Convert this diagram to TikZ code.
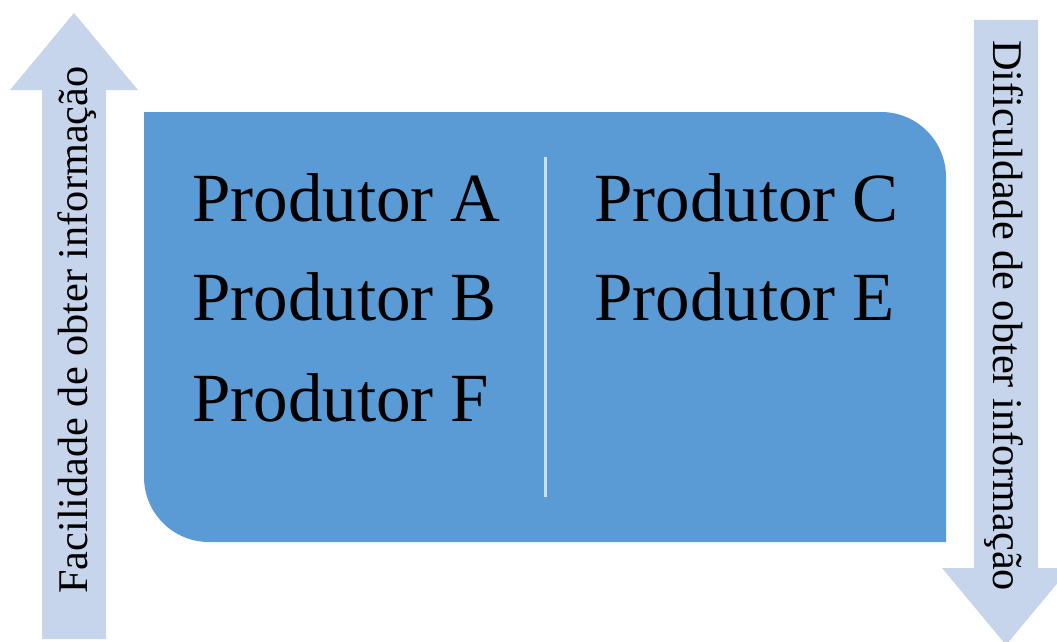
\documentclass[tikz,border=0pt]{standalone}
\usepackage{fontspec}
\setmainfont{Liberation Serif}
\usepackage{tikz}
\usetikzlibrary{positioning,calc}
\definecolor{boxblue}{HTML}{5B9BD5}
\definecolor{arrowblue}{HTML}{C6D5EB}
\definecolor{lineblue}{HTML}{CFDEF0}
\tikzstyle{prod}=[inner sep=0pt, anchor=base west, font=\fontsize{69}{80}\selectfont]
\tikzstyle{side}=[inner sep=0pt, anchor=base west, font=\fontsize{42.3}{50}\selectfont]
\tikzstyle{bigarrow}=[fill=arrowblue]

\begin{document}
\begin{tikzpicture}[x=1pt, y=-1pt]
      %
      \useasboundingbox (0,0) rectangle (1057,642);
      \clip (0,0) rectangle (1057,642);
      % arrows
      \fill[bigarrow] (42,639) -- (42,90) -- (10,90) -- (74,13) -- (138,90)
        -- (106,90) -- (106,639) -- cycle;
      \fill[bigarrow] (974,20) -- (1038,20) -- (1038,568) -- (1070,568)
        -- (1006,645) -- (942,568) -- (974,568) -- cycle;
      % box
      \fill[boxblue] (144,112) -- (881,112) .. controls (917,112) and (946,141) .. (946,177)
        -- (946,542) -- (209,542) .. controls (173,542) and (144,513) .. (144,477) -- cycle;
      \coordinate (top) at (545,157);
      \coordinate (bot) at (545,497);
      \draw[lineblue, line width=3pt] (top) -- (bot);
      %
      \node at (192,221) [prod] (A) {Produtor A};
      \node at (192,320) [prod] (B) {Produtor B};
      \node at (192,421) [prod] (F) {Produtor F};
      \node at (594,221) [prod] (C) {Produtor C};
      \node at (594,320) [prod] (E) {Produtor E};
      %
      \node at (87,594) [side, rotate=90] (easy) {Facilidade de obter informação};
      \node at (993,40) [side, rotate=-90] (hard) {Dificuldade de obter informação};
      %
\end{tikzpicture}
\end{document}
